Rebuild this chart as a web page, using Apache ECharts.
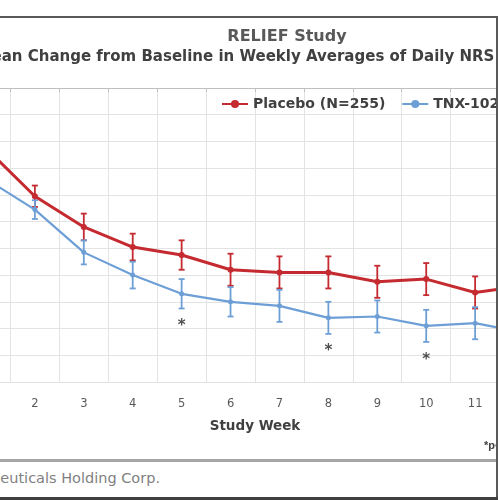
<!DOCTYPE html>
<html>
<head>
<meta charset="utf-8">
<script src="https://cdn.jsdelivr.net/npm/echarts@6/dist/echarts.min.js"></script>
<style>
  body { margin: 0; background: #fff; }
  #page { position: relative; width: 500px; height: 500px; overflow: hidden; background: #fff; }
  #clip { position: absolute; left: 0; top: 0; width: 496px; height: 459px; overflow: hidden; }
  #chart { position: absolute; left: -100px; top: 0; width: 774px; height: 459px; }
  .rule { position: absolute; }
  #footer { position: absolute; right: 340px; top: 470px; white-space: nowrap;
    font: 14.5px "DejaVu Sans", sans-serif; color: #7f7f7f; }
</style>
</head>
<body>
<div id="page">
  <div id="clip"><div id="chart"></div></div>
  <div class="rule" style="left:0;top:16px;width:498px;height:2px;background:#595959"></div>
  <div class="rule" style="left:496px;top:16px;width:2px;height:484px;background:#595959"></div>
  <div class="rule" style="left:0;top:459px;width:496px;height:3px;background:#a6a6a6"></div>
  <div class="rule" style="left:0;top:497px;width:498px;height:3px;background:#404040"></div>
  <div id="footer">© 2020 Tonix Pharmaceuticals Holding Corp.</div>
</div>
<script>
// 주차별 LS 평균 변화량
const weeks = ['1', '2', '3', '4', '5', '6', '7', '8', '9', '10', '11', '12']
const placebo = [-0.45, -0.81, -1.04, -1.19, -1.25, -1.36, -1.38, -1.38, -1.45, -1.43, -1.53, -1.48]
const placeboSE = [0.08, 0.08, 0.10, 0.10, 0.11, 0.12, 0.12, 0.12, 0.12, 0.12, 0.12, 0.12]
const tnx = [-0.68, -0.91, -1.23, -1.40, -1.54, -1.60, -1.63, -1.72, -1.71, -1.78, -1.76, -1.83]
const tnxSE = [0.07, 0.07, 0.09, 0.10, 0.11, 0.11, 0.12, 0.12, 0.12, 0.12, 0.12, 0.12]
const sigWeeks = ['5', '8', '10']
const sigY = [-1.75, -1.94, -2.01]

const RED = '#c42a2f'
const BLUE = '#6d9fd6'

const errorBars = (vals, se) => vals.map((v, i) => [i, v - se[i], v + se[i]])

const errorRenderer = color => (params, api) => {
  const top = api.coord([api.value(0), api.value(2)])
  const bot = api.coord([api.value(0), api.value(1)])
  const w = 3
  const style = { stroke: color, lineWidth: 1.8 }
  return {
    type: 'group',
    children: [
      { type: 'line', shape: { x1: top[0], y1: top[1], x2: bot[0], y2: bot[1] }, style },
      { type: 'line', shape: { x1: top[0] - w, y1: top[1], x2: top[0] + w, y2: top[1] }, style },
      { type: 'line', shape: { x1: bot[0] - w, y1: bot[1], x2: bot[0] + w, y2: bot[1] }, style }
    ]
  }
}

const chart = echarts.init(document.getElementById('chart'))
chart.setOption({
  animation: false,
  textStyle: { fontFamily: 'DejaVu Sans' },
  title: [
    {
      text: 'RELIEF Study',
      left: 'center',
      top: 24,
      textStyle: { fontSize: 16, fontWeight: 'bold', color: '#595959' }
    },
    {
      text: 'LS Mean Change from Baseline in Weekly Averages of Daily NRS Pain Scores',
      left: 46,
      top: 45,
      textStyle: { fontSize: 15, fontWeight: 'bold', color: '#404040' }
    }
  ],
  legend: {
    data: ['Placebo (N=255)', 'TNX-102 SL (N=248)'],
    left: 316,
    top: 92,
    itemWidth: 26,
    itemHeight: 10,
    itemGap: 16,
    textStyle: { fontSize: 14, fontWeight: 'bold', color: '#404040' }
  },
  grid: { left: 61.5, right: 125.5, top: 88, height: 294 },
  xAxis: {
    type: 'category',
    data: weeks,
    name: 'Study Week',
    nameLocation: 'middle',
    nameGap: 37,
    nameTextStyle: { fontSize: 13.5, fontWeight: 'bold', color: '#404040' },
    axisLine: { lineStyle: { color: '#bfbfbf' } },
    axisTick: { show: true, length: 4, lineStyle: { color: '#bfbfbf' } },
    axisLabel: { fontSize: 11.5, color: '#595959', margin: 16 },
    splitLine: { show: true, lineStyle: { color: '#e3e3e3' } }
  },
  yAxis: {
    type: 'value',
    min: -2.2,
    max: 0,
    interval: 0.2,
    axisLabel: { fontSize: 11, color: '#595959', formatter: v => v.toFixed(1) },
    splitLine: { lineStyle: { color: '#e3e3e3' } }
  },
  series: [
    {
      type: 'custom',
      renderItem: errorRenderer(RED),
      encode: { x: 0, y: [1, 2] },
      data: errorBars(placebo, placeboSE),
      z: 1
    },
    {
      type: 'custom',
      renderItem: errorRenderer(BLUE),
      encode: { x: 0, y: [1, 2] },
      data: errorBars(tnx, tnxSE),
      z: 1
    },
    {
      name: 'Placebo (N=255)',
      type: 'line',
      data: placebo,
      symbol: 'circle',
      symbolSize: 6,
      color: RED,
      lineStyle: { width: 3, color: RED },
      z: 3
    },
    {
      name: 'TNX-102 SL (N=248)',
      type: 'line',
      data: tnx,
      symbol: 'circle',
      symbolSize: 5,
      color: BLUE,
      lineStyle: { width: 2.2, color: BLUE },
      z: 3
    },
    {
      type: 'scatter',
      data: sigWeeks.map((w, i) => [w, sigY[i]]),
      symbolSize: 1,
      itemStyle: { color: 'rgba(0,0,0,0)' },
      label: {
        show: true,
        position: 'inside',
        formatter: '*',
        fontSize: 15,
        fontWeight: 'bold',
        color: '#222',
        offset: [0, 4]
      },
      z: 4
    }
  ],
  graphic: [{
    type: 'text',
    left: 584,
    top: 440,
    style: { text: '*p<0.05 vs. placebo', fontSize: 11, fontWeight: 'bold', fill: '#404040' }
  }]
})
</script>
</body>
</html>
